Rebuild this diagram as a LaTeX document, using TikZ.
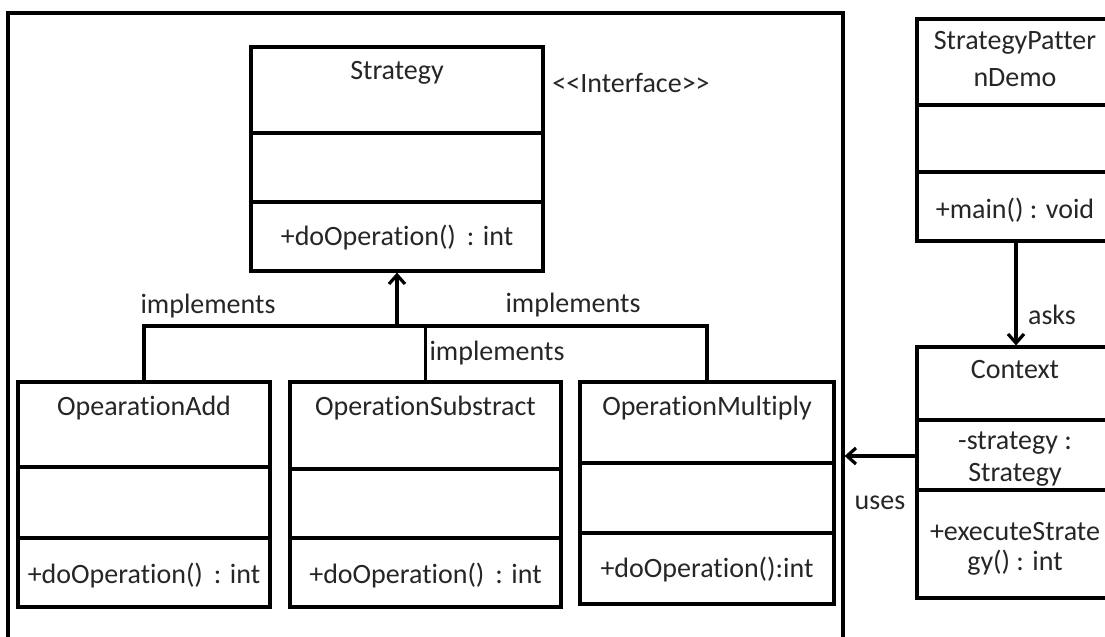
\documentclass[tikz,border=0pt]{standalone}
\usepackage{fontspec}
\setmainfont{Carlito}[Ligatures={NoCommon}]
\usetikzlibrary{arrows.meta,fit}
\begin{document}
\begin{tikzpicture}[x=0.5pt,y=-0.5pt,
  ln/.style={line width=1.6pt, draw=black},
  cls/.style={ln, rectangle, inner sep=0pt},
  txt/.style={font=\fontsize{14}{17.5}\selectfont, text=black!85, inner sep=0pt, align=center},
  arr/.style={ln, -{Straight Barb[length=4.5pt,width=8pt,line width=1.6pt]}}]
\useasboundingbox (0,0) rectangle (1105,637);
\fill[white] (0,0) rectangle (1105,637);
\clip (0,0) rectangle (1105,637);

% outer frame
\node[cls, fit={(8,13) (843,700)}] (frame) {};

% Strategy
\node[cls, fit={(251,47) (543,271)}] (strat) {};
\draw[ln] (strat.west |- 0,133) -- (strat.east |- 0,133);
\draw[ln] (strat.west |- 0,202) -- (strat.east |- 0,202);
\node[txt] (stratname) at (397,73) {Strategy};
\node[txt] (stratop) at (397,238) {+doOperation()\, : int};
\node[txt] (iface) at (631,83) {<{}<Interface>{}>};

% OpearationAdd
\node[cls, fit={(18,382) (270,607)}] (add) {};
\draw[ln] (add.west |- 0,467) -- (add.east |- 0,467);
\draw[ln] (add.west |- 0,538) -- (add.east |- 0,538);
\node[txt] (addname) at (144,408) {OpearationAdd};
\node[txt] (addop) at (144,576) {+doOperation()\, : int};

% OperationSubstract
\node[cls, fit={(290,382) (561,607)}] (sub) {};
\draw[ln] (sub.west |- 0,469) -- (sub.east |- 0,469);
\draw[ln] (sub.west |- 0,538) -- (sub.east |- 0,538);
\node[txt] (subname) at (425.5,408) {OperationSubstract};
\node[txt] (subop) at (425.5,576) {+doOperation()\, : int};

% OperationMultiply
\node[cls, fit={(580,382) (834,604)}] (mul) {};
\draw[ln] (mul.west |- 0,463) -- (mul.east |- 0,463);
\draw[ln] (mul.west |- 0,533) -- (mul.east |- 0,533);
\node[txt] (mulname) at (707,408) {OperationMultiply};
\node[txt] (mulop) at (707,570) {+doOperation():int};

% StrategyPatternDemo
\node[cls, fit={(917,19) (1115,241)}] (demo) {};
\draw[ln] (demo.west |- 0,105) -- (demo.east |- 0,105);
\draw[ln] (demo.west |- 0,172) -- (demo.east |- 0,172);
\node[txt] (demoname1) at (1015,43) {StrategyPatter};
\node[txt] (demoname2) at (1015,78) {nDemo};
\node[txt] (demoop) at (1015,210) {+main() : void};

% Context
\node[cls, fit={(917,347) (1115,598)}] (ctx) {};
\draw[ln] (ctx.west |- 0,420) -- (ctx.east |- 0,420);
\draw[ln] (ctx.west |- 0,490) -- (ctx.east |- 0,490);
\node[txt] (ctxname) at (1015,370) {Context};
\node[txt] (ctxattr1) at (1015,443) {-strategy :};
\node[txt] (ctxattr2) at (1015,475) {Strategy};
\node[txt] (ctxop1) at (1015,532) {+executeStrate};
\node[txt] (ctxop2) at (1015,563) {gy() : int};

% implements connectors
\coordinate (j) at (397,326);
\draw[ln] (add.north) |- (j) -| (mul.north);
\draw[ln] (sub.north) -- (sub.north |- j);
\draw[arr] (j) -- (strat.south);
\node[txt] (impl1) at (208,306) {implements};
\node[txt] (impl2) at (573,305) {implements};
\node[txt] (impl3) at (497,353) {implements};

% asks
\coordinate (askfrom) at (1016,241);
\draw[arr] (askfrom) -- (askfrom |- ctx.north);
\node[txt] (asks) at (1052,315) {asks};

% uses
\coordinate (usefrom) at (917,456);
\draw[arr] (usefrom) -- (usefrom -| frame.east);
\node[txt] (uses) at (880,503) {uses};
\end{tikzpicture}
\end{document}
